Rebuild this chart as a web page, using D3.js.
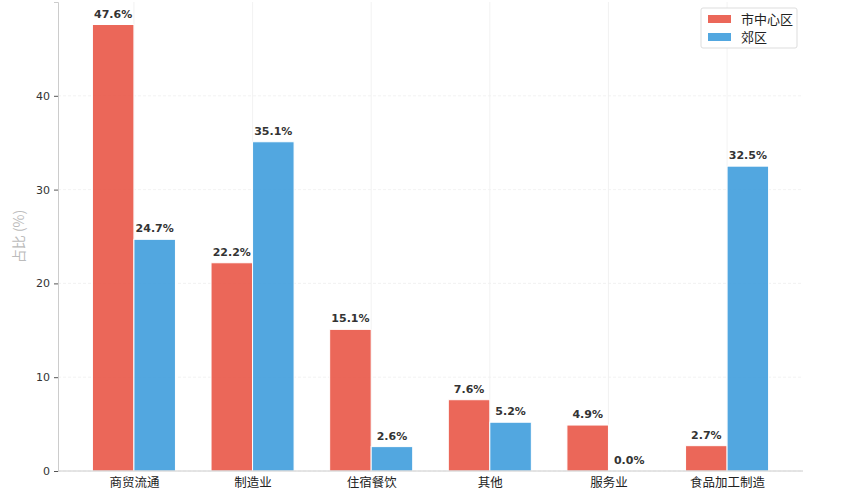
<!DOCTYPE html>
<html><head><meta charset="utf-8">
<script src="https://cdn.jsdelivr.net/npm/d3@7"></script>
<style>body{margin:0;background:#fff}svg{display:block}</style>
</head><body><svg id="c" width="857" height="503"></svg>
<script>
const categories = ["商贸流通","制造业","住宿餐饮","其他","服务业","食品加工制造"];
const seriesNames = ["市中心区","郊区"];
const urban = [47.6,22.2,15.1,7.6,4.9,2.7];
const suburb = [24.7,35.1,2.6,5.2,0.0,32.5];
const yTicks = [0,10,20,30,40];
const colors = ["#e74c3c","#3498db"];

const svg = d3.select("#c");
const L=58, R=803, T=2, B=471;
const x = d3.scaleLinear().domain([-0.64, categories.length-1+0.64]).range([L,R]);
const y = d3.scaleLinear().domain([0,50]).range([B,T]);
const unit = x(1)-x(0);
const bw = 0.35*unit;
const cjk = "'Noto Sans CJK SC', 'DejaVu Sans', sans-serif";

// grids
svg.append("g").selectAll("line").data(categories).join("line")
  .attr("x1",(d,i)=>x(i)).attr("x2",(d,i)=>x(i)).attr("y1",T).attr("y2",B)
  .attr("stroke","#efefef").attr("stroke-width",0.8);
svg.append("g").selectAll("line").data(yTicks).join("line")
  .attr("x1",L).attr("x2",R).attr("y1",d=>y(d)).attr("y2",d=>y(d))
  .attr("stroke","#efefef").attr("stroke-width",0.8).attr("stroke-dasharray","3,2");

const series=[urban,suburb];
series.forEach((vals,s)=>{
  const off = s===0 ? -bw/2 : bw/2;
  svg.append("g").selectAll("rect").data(vals).join("rect")
    .attr("x",(d,i)=>x(i)+off-bw/2).attr("width",bw)
    .attr("y",d=>y(d)).attr("height",d=>B-y(d))
    .attr("fill",colors[s]).attr("fill-opacity",0.85)
    .attr("stroke","#fff").attr("stroke-width",1);
  svg.append("g").selectAll("text").data(vals).join("text")
    .attr("x",(d,i)=>x(i)+off).attr("y",d=>y(d)-7)
    .attr("text-anchor","middle").attr("font-family","'DejaVu Sans', sans-serif")
    .attr("font-weight","bold").attr("font-size",11).attr("fill","#333")
    .text(d=>d.toFixed(1)+"%");
});

// axes
const ya = d3.axisLeft(y).tickValues(yTicks).tickSize(4).tickPadding(4);
const gy = svg.append("g").attr("transform",`translate(${L},0)`).call(ya);
gy.select(".domain").attr("stroke","#ccc");
gy.selectAll(".tick line").attr("stroke","#555");
gy.selectAll("text").attr("font-family","'DejaVu Sans', sans-serif").attr("font-size",11).attr("fill","#333");

const xa = d3.axisBottom(x).tickValues(d3.range(categories.length)).tickFormat(i=>categories[i]).tickSize(0).tickPadding(7);
const gx = svg.append("g").attr("transform",`translate(0,${B})`).call(xa);
gx.select(".domain").attr("stroke","#ccc").attr("d",`M${L},0H${R}`);
gx.selectAll("text").attr("font-family",cjk).attr("font-size",12.5).attr("fill","#222");

svg.append("text").attr("transform",`translate(24,${y(25)}) rotate(-90)`)
  .attr("text-anchor","middle").attr("font-family",cjk).attr("font-size",14).attr("fill","#bbb")
  .text("占比 (%)");

// legend
const lg = svg.append("g").attr("transform","translate(701,8)");
lg.append("rect").attr("width",96).attr("height",40).attr("rx",2).attr("fill","#fff").attr("stroke","#ddd");
seriesNames.forEach((n,i)=>{
  lg.append("rect").attr("x",7).attr("y",7+i*18).attr("width",23).attr("height",8)
    .attr("fill",colors[i]).attr("fill-opacity",0.85);
  lg.append("text").attr("x",40).attr("y",16+i*18).attr("font-family",cjk).attr("font-size",13).attr("fill","#222").text(n);
});
</script></body></html>
